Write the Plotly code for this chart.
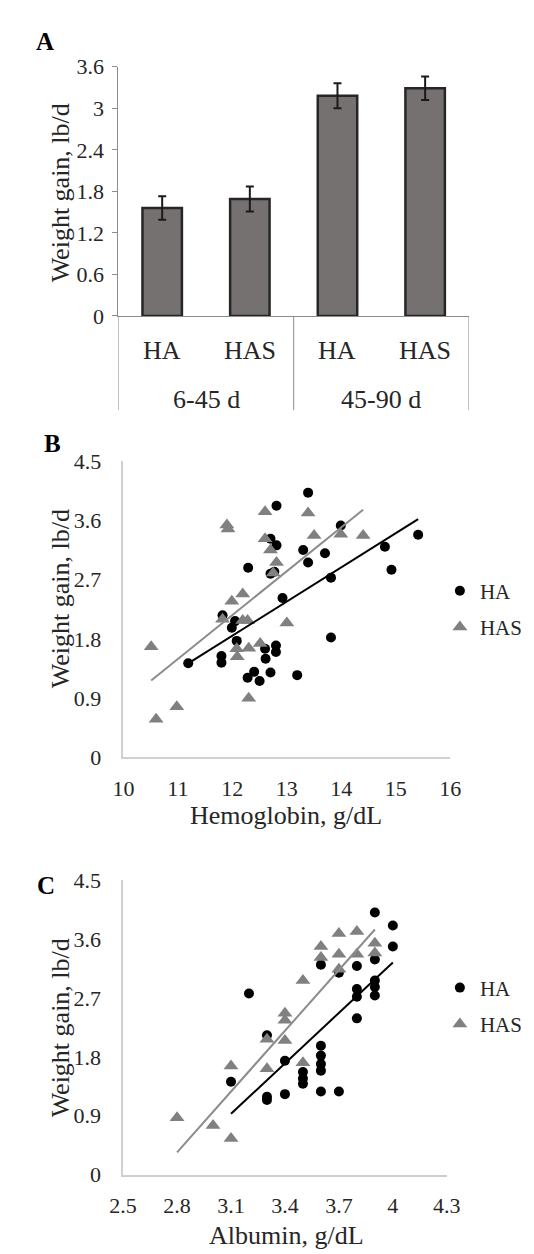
import plotly.graph_objects as go

W, H = 534, 1254
FONT = "Liberation Serif, Times New Roman, serif"
TXT = "#262626"


def fx(p):
    return p / W


def fy(p):
    return 1 - p / H


# ---------------- Panel A data ----------------
periods = ["6-45 d", "6-45 d", "45-90 d", "45-90 d"]
treatments = ["HA", "HAS", "HA", "HAS"]
gain_mean = [1.56, 1.69, 3.18, 3.29]
gain_sem = [0.17, 0.18, 0.18, 0.17]

# ---------------- Panel B data (hemoglobin) ----------------
hb_HA = [13.39, 12.81, 13.99, 15.41, 14.80, 14.92, 12.70, 12.81, 13.30, 13.70,
         13.39, 12.29, 12.70, 12.77, 13.81, 12.92, 11.82, 12.05, 11.99, 13.81,
         12.08, 12.80, 12.80, 12.60, 12.61, 11.80, 11.80, 11.19, 12.70, 12.40,
         12.28, 12.50, 13.19]
gain_hb_HA = [4.02, 3.82, 3.52, 3.38, 3.20, 2.85, 3.32, 3.22, 3.15, 3.10,
              2.96, 2.88, 2.79, 2.82, 2.73, 2.42, 2.16, 2.07, 1.97, 1.82,
              1.77, 1.70, 1.60, 1.65, 1.50, 1.54, 1.44, 1.43, 1.29, 1.30,
              1.21, 1.16, 1.25]
hb_HAS = [12.60, 13.39, 11.90, 11.92, 12.60, 13.50, 13.99, 14.40, 12.70, 12.81,
          12.75, 12.19, 11.99, 11.82, 12.28, 12.19, 13.00, 10.51, 12.08, 12.09,
          12.30, 12.51, 12.30, 10.98, 10.60]
gain_hb_HAS = [3.73, 3.71, 3.53, 3.47, 3.32, 3.37, 3.39, 3.37, 3.15, 2.96,
               2.80, 2.48, 2.37, 2.10, 2.08, 2.08, 2.04, 1.68, 1.65, 1.53,
               1.66, 1.73, 0.90, 0.77, 0.58]
hb_trend_HA = [0.519, -4.38]    # slope, intercept
hb_trend_HAS = [0.666, -5.83]

# ---------------- Panel C data (albumin) ----------------
alb_HA = [3.9, 4.0, 4.0, 3.6, 3.8, 3.7, 3.9, 3.8, 3.8, 3.9,
          3.9, 3.9, 3.8, 3.2, 3.3, 3.6, 3.6, 3.6, 3.6, 3.4,
          3.5, 3.5, 3.5, 3.6, 3.7, 3.3, 3.3, 3.4, 3.1]
gain_alb_HA = [4.01, 3.81, 3.49, 3.21, 3.19, 3.09, 3.29, 2.84, 2.72, 2.97,
               2.87, 2.74, 2.39, 2.77, 2.13, 1.97, 1.82, 1.69, 1.59, 1.74,
               1.57, 1.47, 1.39, 1.27, 1.27, 1.19, 1.14, 1.23, 1.42]
alb_HAS = [3.7, 3.8, 3.6, 3.9, 3.9, 3.6, 3.7, 3.8, 3.7, 3.5,
           3.4, 3.4, 3.3, 3.4, 3.5, 3.3, 3.1, 3.0, 3.1, 2.8]
gain_alb_HAS = [3.69, 3.72, 3.49, 3.54, 3.39, 3.32, 3.37, 3.37, 3.14, 2.97,
                2.47, 2.36, 2.07, 2.05, 1.71, 1.62, 1.66, 0.75, 0.55, 0.87]
alb_trend_HA = [2.574, -7.05]
alb_trend_HAS = [3.10, -8.34]

BLACK = "#000000"
GREY = "#808080"

fig = go.Figure()

# ---------- Panel A ----------
idx = list(range(len(treatments)))
fig.add_trace(go.Bar(
    x=idx, y=gain_mean, width=0.45,
    marker=dict(color="#767171", line=dict(color="#262626", width=2.5)),
    error_y=dict(type="data", array=gain_sem, color="#1a1a1a", thickness=2, width=4),
    xaxis="x", yaxis="y", showlegend=False, hoverinfo="skip"))


def trend_xy(xs, coef):
    x0, x1 = min(xs), max(xs)
    return [x0, x1], [coef[0] * x0 + coef[1], coef[0] * x1 + coef[1]]


def add_scatter_panel(xa, ya, leg, xHA, yHA, xHAS, yHAS, tHA, tHAS):
    fig.add_trace(go.Scatter(
        x=xHA, y=yHA, mode="markers", name="HA",
        marker=dict(symbol="circle", size=10, color=BLACK),
        xaxis=xa, yaxis=ya, legend=leg, legendgroup=leg + "HA"))
    fig.add_trace(go.Scatter(
        x=xHAS, y=yHAS, mode="markers", name="HAS",
        marker=dict(symbol="triangle-up", size=13, color=GREY),
        xaxis=xa, yaxis=ya, legend=leg, legendgroup=leg + "HAS"))
    lx, ly = trend_xy(xHA, tHA)
    fig.add_trace(go.Scatter(x=lx, y=ly, mode="lines", line=dict(color=BLACK, width=2),
                             xaxis=xa, yaxis=ya, showlegend=False, hoverinfo="skip"))
    lx, ly = trend_xy(xHAS, tHAS)
    fig.add_trace(go.Scatter(x=lx, y=ly, mode="lines", line=dict(color="#8c8c8c", width=2),
                             xaxis=xa, yaxis=ya, showlegend=False, hoverinfo="skip"))


add_scatter_panel("x2", "y2", "legend", hb_HA, gain_hb_HA, hb_HAS, gain_hb_HAS,
                  hb_trend_HA, hb_trend_HAS)
add_scatter_panel("x3", "y3", "legend2", alb_HA, gain_alb_HA, alb_HAS, gain_alb_HAS,
                  alb_trend_HA, alb_trend_HAS)

tickfont = dict(family=FONT, size=22, color=TXT)
axA = "#8c8c8c"
axBC = "#d0d0d0"

annotations = []
shapes = []

# Panel A category labels and dividers
for i, t in enumerate(treatments):
    annotations.append(dict(x=i, y=-0.1376, xref="x", yref="y domain", text=t,
                            showarrow=False, font=dict(family=FONT, size=26, color=TXT),
                            xanchor="center", yanchor="middle"))
groups = []
for p in periods:
    if p not in groups:
        groups.append(p)
for g in groups:
    members = [i for i, p in enumerate(periods) if p == g]
    annotations.append(dict(x=sum(members) / len(members), y=-0.334, xref="x", yref="y domain",
                            text=g, showarrow=False,
                            font=dict(family=FONT, size=26, color=TXT),
                            xanchor="center", yanchor="middle"))
bounds = [-0.5] + [i + 0.5 for i in range(len(periods) - 1) if periods[i] != periods[i + 1]] \
    + [len(periods) - 0.5]
for b in bounds:
    shapes.append(dict(type="line", xref="x", yref="y domain", x0=b, x1=b, y0=0, y1=-0.3775,
                       line=dict(color=axA, width=1)))

# Panel letters
for letter, (lx, ly) in {"A": (24, 22), "B": (32, 432), "C": (25, 883)}.items():
    annotations.append(dict(x=fx(lx), y=fy(ly), xref="paper", yref="paper", text="<b>%s</b>" % letter,
                            showarrow=False, font=dict(family=FONT, size=25, color="#000"),
                            xanchor="center", yanchor="middle"))

# Axis titles
ytitle = "Weight gain, lb/d"
for (tx, ty) in [(41, 176), (40, 590), (41, 1028)]:
    annotations.append(dict(x=fx(tx), y=fy(ty), xref="paper", yref="paper", text=ytitle,
                            textangle=-90, showarrow=False,
                            font=dict(family=FONT, size=26, color=TXT),
                            xanchor="center", yanchor="middle"))
annotations.append(dict(x=fx(279), y=fy(812), xref="paper", yref="paper",
                        text="Hemoglobin, g/dL", showarrow=False,
                        font=dict(family=FONT, size=26, color=TXT),
                        xanchor="center", yanchor="middle"))
annotations.append(dict(x=fx(279), y=fy(1240), xref="paper", yref="paper",
                        text="Albumin, g/dL", showarrow=False,
                        font=dict(family=FONT, size=26, color=TXT),
                        xanchor="center", yanchor="middle"))

legend_common = dict(xanchor="left", yanchor="middle", font=dict(family=FONT, size=21, color=TXT),
                     bgcolor="rgba(0,0,0,0)", tracegroupgap=6, traceorder="grouped",
                     itemclick=False, itemdoubleclick=False)

fig.update_layout(
    width=W, height=H,
    margin=dict(l=0, r=0, t=0, b=0),
    paper_bgcolor="white", plot_bgcolor="white",
    font=dict(family=FONT, color=TXT),
    bargap=0.55,
    annotations=annotations,
    shapes=shapes,
    legend=dict(x=fx(441), y=fy(601), **legend_common),
    legend2=dict(x=fx(441), y=fy(1006), **legend_common),
    xaxis=dict(domain=[fx(101.7), fx(471.7)], range=[-0.5, 3.5], showticklabels=False,
               showline=True, linecolor=axA, linewidth=1, showgrid=False, zeroline=False,
               ticks="", anchor="y", fixedrange=True),
    yaxis=dict(domain=[fy(302), fy(47.7)], range=[0, 3.6], tick0=0, dtick=0.6,
               ticks="outside", ticklen=5, tickcolor=axA, showline=True, linecolor=axA,
               linewidth=1, showgrid=False, zeroline=False, tickfont=tickfont,
               ticklabelstandoff=4, anchor="x", fixedrange=True),
    xaxis2=dict(domain=[fx(107), fx(452)], range=[10, 16], tick0=10, dtick=1,
                showline=True, linecolor=axBC, linewidth=1.5, showgrid=False, zeroline=False,
                ticks="", tickfont=tickfont, ticklabelstandoff=10, anchor="y2", fixedrange=True),
    yaxis2=dict(domain=[fy(752.5), fy(450)], range=[0, 4.5], tick0=0, dtick=0.9,
                showline=True, linecolor=axBC, linewidth=1.5, showgrid=False, zeroline=False,
                ticks="", tickfont=tickfont, ticklabelstandoff=16, anchor="x2", fixedrange=True),
    xaxis3=dict(domain=[fx(106.7), fx(448.3)], range=[2.5, 4.3], tick0=2.5, dtick=0.3,
                showline=True, linecolor=axBC, linewidth=1.5, showgrid=False, zeroline=False,
                ticks="", tickfont=tickfont, ticklabelstandoff=10, anchor="y3", fixedrange=True),
    yaxis3=dict(domain=[fy(1178), fy(878)], range=[0, 4.5], tick0=0, dtick=0.9,
                showline=True, linecolor=axBC, linewidth=1.5, showgrid=False, zeroline=False,
                ticks="", tickfont=tickfont, ticklabelstandoff=16, anchor="x3", fixedrange=True),
)

fig.write_html("out.html", config={"displayModeBar": False})
